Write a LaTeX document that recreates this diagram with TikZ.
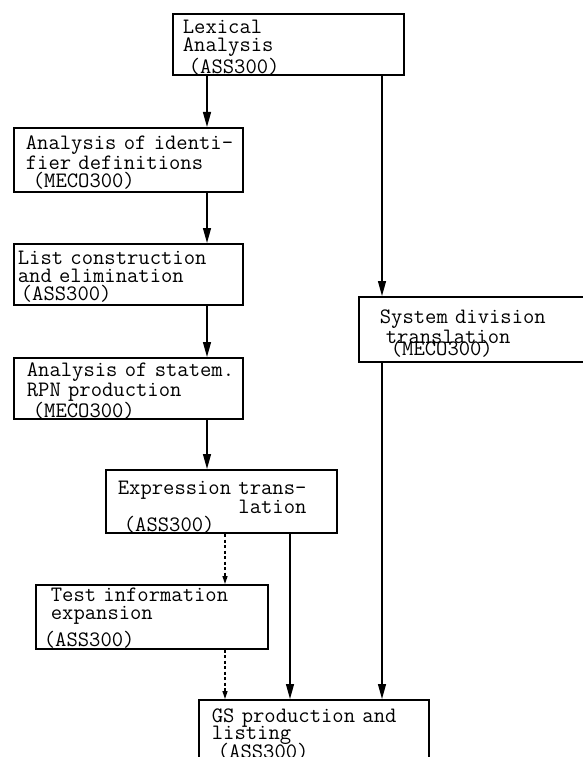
\documentclass[tikz,border=0pt]{standalone}
\usepackage{fontspec}
\usetikzlibrary{arrows.meta}

\newcommand{\firstln}[1][19pt]{\rule{0pt}{#1}}

\begin{document}
\begin{tikzpicture}[x=1pt,y=-1pt,
  box/.style={draw, line width=1.7pt, anchor=north west, align=left, inner ysep=0pt,
    font=\ttfamily\fontsize{22}{18}\selectfont\addfontfeatures{FakeBold=1.1,FakeStretch=1.15}},
  arr/.style={line width=1.3pt, -{Triangle[length=15pt,width=8pt]}},
  dotarr/.style={line width=1.3pt, dash pattern=on 3pt off 2.5pt, -{Triangle[length=8pt,width=5pt]}}]
  \useasboundingbox (0,0) rectangle (583,757);
  \clip (0,0) rectangle (583,757);

  \node[box, inner xsep=10pt, text width=211pt, minimum height=60pt] (lex) at (172,13)
    {\firstln[20pt]Lexical\\Analysis\\\hspace*{6pt}(ASS300)};
  \node[box, inner xsep=12pt, text width=205pt, minimum height=64pt] (idf) at (13,127)
    {\firstln\mbox{Analysis of identi-}\\fier definitions\\\hspace*{7pt}(MECO300)};
  \node[box, inner xsep=4pt, text width=221pt, minimum height=61pt] (lst) at (13,243)
    {\firstln\mbox{List construction}\\and elimination\\\hspace*{3pt}(ASS300)};
  \node[box, inner xsep=13pt, text width=203pt, minimum height=61pt] (stm) at (13,357)
    {\firstln\mbox{Analysis of statem.}\\RPN production\\\hspace*{6pt}(MECO300)};
  \node[box, inner xsep=12pt, text width=207pt, minimum height=63pt] (expr) at (105,469)
    {\firstln[25pt]\mbox{Expression trans-}\\[-1pt]\phantom{Expression\ }lation\\[-3pt]\hspace*{6pt}(ASS300)};
  \node[box, inner xsep=8pt, text width=216pt, minimum height=64pt] (test) at (35,584)
    {\firstln[16pt]\hspace*{7pt}Test information\\\hspace*{7pt}expansion\\[6pt](ASS300)};
  \node[box, inner xsep=13pt, text width=204pt, minimum height=64pt] (gs) at (198,699)
    {\firstln\mbox{GS production and}\\[-2pt]listing\\[-3pt]\hspace*{6pt}(ASS300)};
  \node[box, inner xsep=21pt, text width=198pt, minimum height=65pt] (sys) at (358,296)
    {\firstln[22pt]System division\\\hspace*{6pt}translation\\[-6pt]\hspace*{11pt}(MECO300)};

  \coordinate (c1) at (207,0);
  \coordinate (c2) at (225,0);
  \coordinate (c3) at (290,0);
  \coordinate (c4) at (382,0);

  \draw[arr] (lex.south -| c1) -- (idf.north -| c1);
  \draw[arr] (idf.south -| c1) -- (lst.north -| c1);
  \draw[arr] (lst.south -| c1) -- (stm.north -| c1);
  \draw[arr] (stm.south -| c1) -- (expr.north -| c1);
  \draw[dotarr] (expr.south -| c2) -- (test.north -| c2);
  \draw[dotarr] (test.south -| c2) -- (gs.north -| c2);
  \draw[arr] (expr.south -| c3) -- (gs.north -| c3);
  \draw[arr] (lex.south -| c4) -- (sys.north -| c4);
  \draw[arr] (sys.south -| c4) -- (gs.north -| c4);

\end{tikzpicture}
\end{document}
